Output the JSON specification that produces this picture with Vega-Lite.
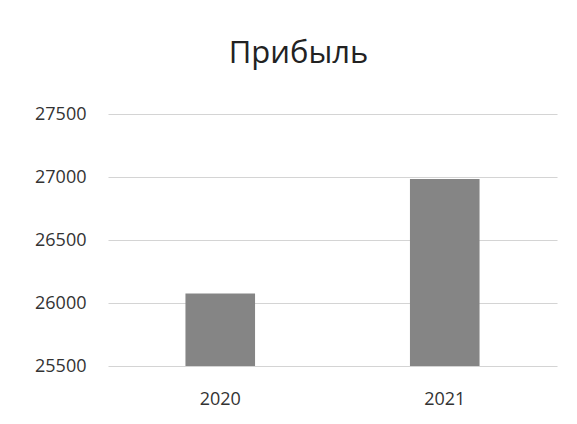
{
  "$schema": "https://vega.github.io/schema/vega-lite/v6.json",
  "autosize": {"type": "none"},
  "width": 449,
  "height": 252,
  "padding": {"left": 108, "top": 114, "right": 20, "bottom": 58},
  "background": "white",
  "title": {
    "text": "Прибыль",
    "font": "Open Sans",
    "fontSize": 31,
    "fontWeight": "normal",
    "color": "#222222",
    "anchor": "middle",
    "dx": -34,
    "offset": 35
  },
  "data": {
    "values": [
      {"year": "2020", "profit": 26075},
      {"year": "2021", "profit": 26984}
    ]
  },
  "mark": {"type": "bar", "color": "#858585", "clip": true},
  "encoding": {
    "x": {
      "field": "year",
      "type": "nominal",
      "scale": {"paddingInner": 0.69, "paddingOuter": 0.345},
      "axis": {
        "title": null,
        "labelAngle": 0,
        "ticks": false,
        "domain": false,
        "labelFont": "Open Sans",
        "labelFontSize": 18,
        "labelColor": "#333333",
        "labelPadding": 24
      }
    },
    "y": {
      "field": "profit",
      "type": "quantitative",
      "scale": {"domain": [25500, 27500], "zero": false, "nice": false},
      "axis": {
        "title": null,
        "values": [25500, 26000, 26500, 27000, 27500],
        "format": "d",
        "ticks": false,
        "domain": false,
        "gridColor": "#d4d4d4",
        "gridWidth": 1.2,
        "labelFont": "Open Sans",
        "labelFontSize": 18,
        "labelColor": "#333333",
        "labelPadding": 22
      }
    },
    "y2": {"datum": 25500}
  },
  "config": {"view": {"stroke": null}}
}
